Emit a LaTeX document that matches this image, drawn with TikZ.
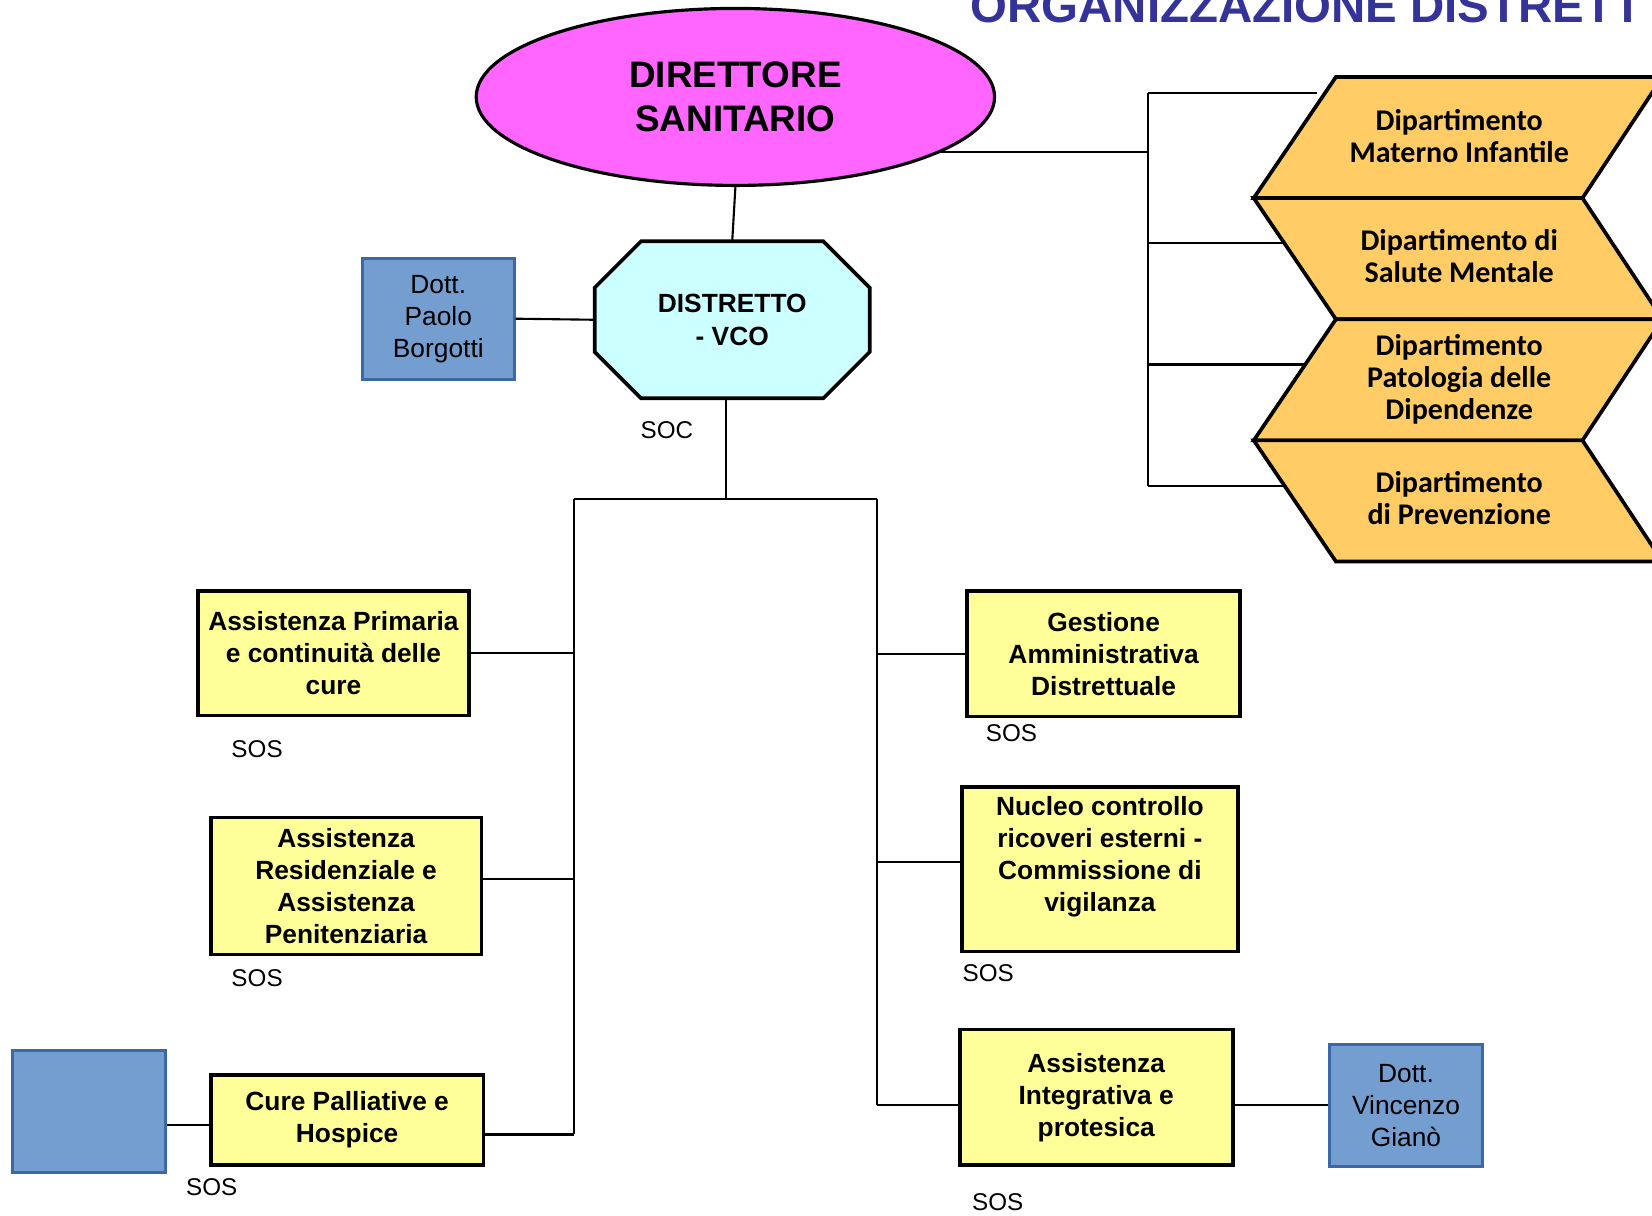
\documentclass[tikz,border=0pt]{standalone}
\usepackage{fontspec}
\setmainfont{Liberation Sans}
\newfontfamily\depfont{Carlito}
\usepackage{tikz}
\usetikzlibrary{shapes.geometric}
\definecolor{dirpink}{HTML}{FF66FF}
\definecolor{vcocyan}{HTML}{CCFFFF}
\definecolor{sosyellow}{HTML}{FFFF99}
\definecolor{deporange}{HTML}{FFCC66}
\definecolor{docblue}{HTML}{739ECF}
\definecolor{docedge}{HTML}{3C68A8}
\definecolor{titleblue}{HTML}{333399}

\begin{document}
\begin{tikzpicture}[x=1pt,y=-1pt,
  link/.style={line width=2pt},
  unittext/.style={align=center, inner sep=0pt, font=\bfseries\fontsize{25}{30.4}\selectfont},
  unitbox/.style={unittext, draw, line width=3.5pt, fill=sosyellow},
  docbox/.style={draw=docedge, line width=3pt, fill=docblue, align=center, inner sep=0pt,
    minimum width=145pt, minimum height=116pt, font=\fontsize{25}{30.4}\selectfont},
  soslabel/.style={inner sep=0pt, font=\fontsize{23}{28}\selectfont},
  vcoshape/.style={draw, line width=3.5pt, fill=vcocyan},
  depshape/.style={draw, line width=3.5pt, fill=deporange},
  deptext/.style={align=center, inner sep=0pt, font=\depfont\bfseries\fontsize{28.5}{30.3}\selectfont}]
\useasboundingbox (0,0) rectangle (1568,1154);
\clip (0,0) rectangle (1568,1154);
%TITLE
\node[anchor=base west, inner sep=0pt, text=titleblue, font=\bfseries\fontsize{45}{50}\selectfont] (title) at (921,21) {ORGANIZZAZIONE DISTRETT};
%TOP
\node[ellipse, draw, line width=3pt, fill=dirpink, minimum width=492pt, minimum height=168pt, align=center, font=\bfseries\fontsize{35}{42}\selectfont] (ds) at (698,92) {DIRETTORE\\SANITARIO};
\coordinate (vcoc) at (695,303.5);
\draw[vcoshape] (vcoc) ++(-86.5,-74.5) -- ++(173,0) -- ++(44,44) -- ++(0,61) -- ++(-44,44) -- ++(-173,0) -- ++(-44,-44) -- ++(0,-61) -- cycle;
\node[minimum width=261pt, minimum height=149pt, inner sep=0pt, align=center, font=\bfseries\fontsize{25}{31}\selectfont] (vco) at (vcoc) {DISTRETTO\\- VCO};
\node[docbox, minimum width=144pt, minimum height=115pt] (pb) at (416,302.5) {Dott.\\Paolo\\Borgotti};
\node[soslabel] (soc) at (633,408) {SOC};
\draw[link] (ds.south) -- (vco.north);
\draw[link] (pb.east) -- (vco.west);
% Dipartimenti
\draw[depshape] (1268,73) -- (1578,73) -- (1502,188) -- (1190,188) -- cycle;
\draw[depshape] (1190,188) -- (1502,188) -- (1578,303) -- (1268,303) -- cycle;
\draw[depshape] (1268,303) -- (1578,303) -- (1502,418) -- (1190,418) -- cycle;
\draw[depshape] (1190,418) -- (1502,418) -- (1578,533) -- (1268,533) -- cycle;
\node[deptext] (dep1) at (1385,129) {Dipartimento\\Materno Infantile};
\node[deptext] (dep2) at (1385,243) {Dipartimento di\\Salute Mentale};
\node[deptext] (dep3) at (1385,360) {Dipartimento\\Patologia delle\\Dipendenze};
\node[deptext] (dep4) at (1385,473) {Dipartimento\\di Prevenzione};
\coordinate (rmid) at (1090,145);
\coordinate (r1) at (1090,88);
\coordinate (r2) at (1090,231);
\coordinate (r3) at (1090,346);
\coordinate (r4) at (1090,461);
\coordinate (c1) at (1250,88);
\coordinate (c2) at (1219,231);
\coordinate (c3) at (1239,346);
\coordinate (c4) at (1219,461);
\draw[link] (ds.-15.5) -- (ds.-15.5 -| rmid);
\draw[link] (r1) -- (r4);
\draw[link] (r1) -- (c1);
\draw[link] (r2) -- (c2);
\draw[link] (r3) -- (c3);
\draw[link] (r4) -- (c4);
%LEFT
\node[unitbox, minimum width=257pt, minimum height=118pt] (ap) at (316.5,620) {Assistenza Primaria\\e continuità delle\\cure};
\node[unitbox, minimum width=257pt, minimum height=130pt] (ar) at (328.5,841) {Assistenza\\Residenziale e\\Assistenza\\Penitenziaria};
\node[unitbox, minimum width=259pt, minimum height=86pt] (cp) at (329.5,1063) {Cure Palliative e\\Hospice};
\node[docbox] (bx) at (84.5,1055) {};
\node[soslabel] (sos1) at (244,711) {SOS};
\node[soslabel] (sos2) at (244,928) {SOS};
\node[soslabel] (sos3) at (201,1127) {SOS};
%RIGHT
\node[unitbox, minimum width=259pt, minimum height=119pt] (ga) at (1047.5,620.5) {Gestione\\Amministrativa\\Distrettuale};
\node[unitbox, minimum width=262pt, minimum height=156pt] (nc) at (1044,825) {};
\node[unittext] (nctext) at (1044,813) {Nucleo controllo\\ricoveri esterni -\\Commissione di\\vigilanza};
\node[unitbox, minimum width=259pt, minimum height=129pt] (ai) at (1040.5,1041.5) {Assistenza\\Integrativa e\\protesica};
\node[docbox] (gi) at (1334.5,1049) {Dott.\\Vincenzo\\Gianò};
\node[soslabel] (sos4) at (960,696) {SOS};
\node[soslabel] (sos5) at (938,924) {SOS};
\node[soslabel] (sos6) at (947,1141) {SOS};
% Frontier
\coordinate (hub) at (689,474);
\coordinate (busL) at (545,474);
\coordinate (busR) at (832,474);
\draw[link] (vco.south -| hub) -- (hub);
\draw[link] (busL) -- (busR);
\draw[link] (busL) -- (cp.-6.6 -| busL);
\draw[link] (busR) -- (ai.183.3 -| busR);
\draw[link] (ap.east) -- (ap.east -| busL);
\draw[link] (ar.3) -- (ar.3 -| busL);
\draw[link] (cp.-6.6) -- (cp.-6.6 -| busL);
\draw[link] (bx.-10.9) -- (bx.-10.9 -| cp.west);
\draw[link] (ga.west) -- (ga.west -| busR);
\draw[link] (nc.177.4) -- (nc.177.4 -| busR);
\draw[link] (ai.183.3) -- (ai.183.3 -| busR);
\draw[link] (ai.-3.3) -- (ai.-3.3 -| gi.west);
\end{tikzpicture}
\end{document}
